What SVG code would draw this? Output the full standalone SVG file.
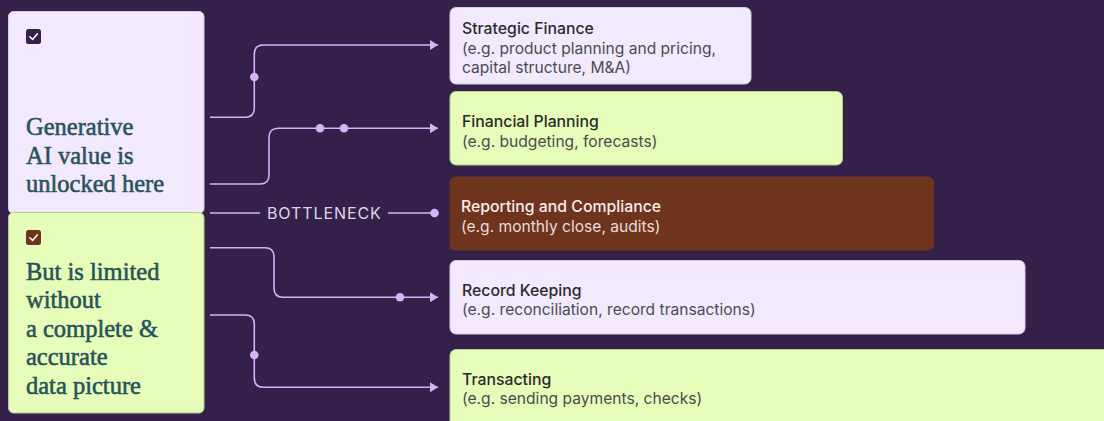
<svg xmlns="http://www.w3.org/2000/svg" width="1104" height="421" viewBox="0 0 1104 421">
  <defs>
    <marker id="arrow" viewBox="0 0 8 10" refX="8" refY="5" markerWidth="8" markerHeight="10" markerUnits="userSpaceOnUse" orient="auto">
      <path d="M0,0 L8,5 L0,10 Z" fill="#D5B3F7"/>
    </marker>
  </defs>
  <style>
    .bg { fill: #33214A; }
    .lav { fill: #F2E9FD; stroke: #D8C9EA; stroke-width: 1; }
    .lime { fill: #E6FCB9; stroke: #B9C98F; stroke-width: 1; }
    .brown { fill: #6F341E; }
    .headline { font-family: "Liberation Serif", "DejaVu Serif", serif; font-size: 24.5px; fill: #29525A; stroke: #29525A; stroke-width: 0.55px; }
    .title { font-family: Inter, "Liberation Sans", sans-serif; font-size: 15.8px; font-weight: 500; fill: #2B2A2E; }
    .sub { font-family: Inter, "Liberation Sans", sans-serif; font-size: 15.6px; fill: #4D4B52; }
    .title.light { fill: #F6EEEA; }
    .sub.light { fill: #EADCD5; }
    .wire { fill: none; stroke: #D5B3F7; stroke-width: 1.6; }
    .dot { fill: #D5B3F7; }
    .tag { font-family: Inter, "Liberation Sans", sans-serif; font-size: 16px; letter-spacing: 0.9px; fill: #DED6EA; }
    .check { fill: none; stroke: #FFFFFF; stroke-width: 1.5; stroke-linecap: round; stroke-linejoin: round; }
  </style>

  <rect class="bg" x="0" y="0" width="1104" height="421"/>

  <!-- Left summary cards -->
  <g id="card-unlocked">
    <rect class="lav" x="8.5" y="11.5" width="195.5" height="202" rx="5"/>
    <rect x="26" y="29" width="15" height="15" rx="2.5" fill="#33214A"/>
    <path class="check" d="M29.8,36.8 L32.6,39.4 L37.4,33.8"/>
    <text class="headline" x="26" y="135">Generative</text>
    <text class="headline" x="26" y="163.5">AI value is</text>
    <text class="headline" x="26" y="192">unlocked here</text>
  </g>

  <g id="card-limited">
    <rect class="lime" x="8.5" y="212.5" width="195.5" height="200.5" rx="5"/>
    <rect x="26" y="230" width="15" height="15" rx="2.5" fill="#6F341E"/>
    <path class="check" d="M29.8,237.8 L32.6,240.4 L37.4,234.8"/>
    <text class="headline" x="26" y="279.5">But is limited</text>
    <text class="headline" x="26" y="308">without</text>
    <text class="headline" x="26" y="336.5">a complete &amp;</text>
    <text class="headline" x="26" y="365">accurate</text>
    <text class="headline" x="26" y="393.5">data picture</text>
  </g>

  <!-- Finance layers -->
  <g id="strategic-finance">
    <rect class="lav" x="450" y="7.5" width="301" height="76.5" rx="6"/>
    <text class="title" x="462" y="33.5">Strategic Finance</text>
    <text class="sub" x="462" y="53.5">(e.g. product planning and pricing,</text>
    <text class="sub" x="462" y="72.5">capital structure, M&amp;A)</text>
  </g>

  <g id="financial-planning">
    <rect class="lime" x="450" y="91.5" width="392.5" height="73.5" rx="6"/>
    <text class="title" x="462" y="127">Financial Planning</text>
    <text class="sub" x="462" y="146.5">(e.g. budgeting, forecasts)</text>
  </g>

  <g id="reporting-compliance">
    <rect class="brown" x="449.5" y="176.5" width="484.5" height="74" rx="6"/>
    <text class="title light" x="461" y="212">Reporting and Compliance</text>
    <text class="sub light" x="461" y="231.5">(e.g. monthly close, audits)</text>
  </g>

  <g id="record-keeping">
    <rect class="lav" x="450" y="260.5" width="575" height="73.5" rx="6"/>
    <text class="title" x="462" y="296">Record Keeping</text>
    <text class="sub" x="462" y="315">(e.g. reconciliation, record transactions)</text>
  </g>

  <g id="transacting">
    <rect class="lime" x="450" y="349.5" width="670" height="90" rx="6"/>
    <text class="title" x="462" y="385">Transacting</text>
    <text class="sub" x="462" y="404">(e.g. sending payments, checks)</text>
  </g>

  <!-- Connectors -->
  <g id="connectors">
    <path class="wire" d="M210,117.3 H245 Q254.3,117.3 254.3,108 V54 Q254.3,45 263.5,45 H438" marker-end="url(#arrow)"/>
    <circle class="dot" cx="254.3" cy="77" r="4.3"/>

    <path class="wire" d="M210,184 H260 Q269,184 269,175 V137.5 Q269,128.3 278.3,128.3 H438" marker-end="url(#arrow)"/>
    <circle class="dot" cx="320" cy="128.3" r="4.3"/>
    <circle class="dot" cx="344" cy="128.3" r="4.3"/>

    <path class="wire" d="M210,213 H260"/>
    <text class="tag" x="267" y="219">BOTTLENECK</text>
    <path class="wire" d="M388,213 H434"/>
    <circle class="dot" cx="434.5" cy="213" r="4.3"/>

    <path class="wire" d="M210,247.8 H265 Q274,247.8 274,257 V288 Q274,297.3 283.3,297.3 H438" marker-end="url(#arrow)"/>
    <circle class="dot" cx="400" cy="297.3" r="4.3"/>

    <path class="wire" d="M210,315 H245 Q254.3,315 254.3,324 V378 Q254.3,387.3 263.5,387.3 H438" marker-end="url(#arrow)"/>
    <circle class="dot" cx="254.3" cy="355" r="4.3"/>
  </g>
</svg>
